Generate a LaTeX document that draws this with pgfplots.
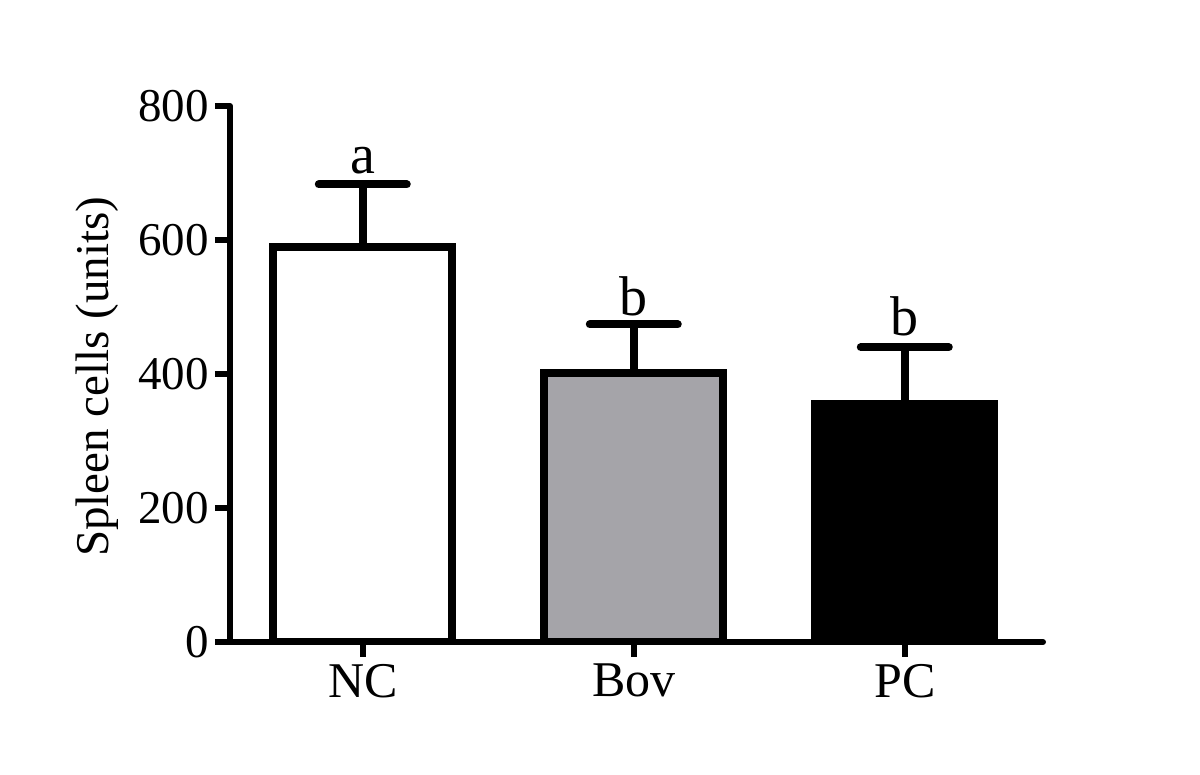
\documentclass[border=0pt]{standalone}
\usepackage{fontspec}
\setmainfont{Liberation Serif}
\usepackage{pgfplots}
\pgfplotsset{compat=1.18}
\definecolor{bovgray}{HTML}{A5A4A9}
\begin{document}
\begin{tikzpicture}
\path[use as bounding box] (-115pt,-66.5pt) rectangle (485pt,321pt);
\begin{axis}[
  scale only axis,
  width=406.5pt, height=268pt,
  xmin=-0.49, xmax=2.51,
  ymin=0, ymax=800,
  ytick={0,200,400,600,800},
  xtick={0,1,2},
  xticklabels={NC,Bov,PC},
  axis x line*=bottom,
  axis y line*=left,
  axis line style={line width=3pt, line cap=round},
  tick align=outside,
  major tick length=7.5pt,
  tick style={line width=3pt, black},
  /pgf/number format/assume math mode=true,
  yticklabel style={font=\fontsize{23.5}{26}\selectfont, inner sep=3pt},
  xticklabel style={font=\fontsize{25}{28}\selectfont},
  ylabel={Spleen cells (units)},
  ylabel style={font=\fontsize{23.5}{26}\selectfont, at={(axis description cs:-0.1636,0.495)}, anchor=center},
  ybar, bar width=89.5pt, bar shift=0pt,
  error bars/y dir=plus,
  error bars/y explicit,
  error bars/error bar style={line width=4pt, line cap=round, black},
  error bars/error mark options={rotate=90, line width=4pt, line cap=round, mark size=22pt, black},
]
\addplot[draw=black, line width=4pt, fill=white] coordinates {(0,590) +- (0,93)};
\addplot[draw=black, line width=4pt, fill=bovgray] coordinates {(1,402) +- (0,72)};
\addplot[draw=black, line width=4pt, fill=black] coordinates {(2,355) +- (0,85)};
\node[anchor=base, font=\fontsize{28}{30}\selectfont] at (axis cs:0,700) {a};
\node[anchor=base, font=\fontsize{28}{30}\selectfont] at (axis cs:1,488) {b};
\node[anchor=base, font=\fontsize{28}{30}\selectfont] at (axis cs:2,458) {b};
\end{axis}
\end{tikzpicture}
\end{document}
